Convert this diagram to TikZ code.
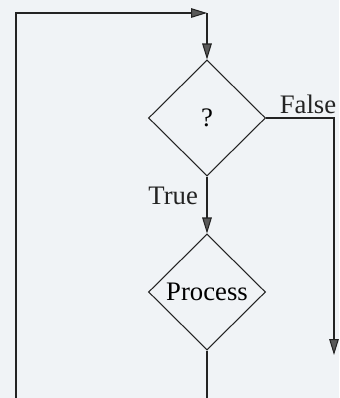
\documentclass[tikz,border=0pt]{standalone}
\usepackage{fontspec}
\setmainfont{Liberation Serif}
\usetikzlibrary{shapes.geometric,arrows.meta,positioning}
\definecolor{paper}{RGB}{240,243,246}
\definecolor{ink}{RGB}{35,35,35}
\begin{document}
\begin{tikzpicture}[
  decision/.style={draw=ink, diamond, minimum width=2.925cm, minimum height=2.9cm, inner sep=0pt, line width=0.75pt, font=\fontsize{19}{21}\selectfont},
  lbl/.style={font=\fontsize{19}{21}\selectfont, inner sep=0pt, text=ink},
  arrow/.style={-{Triangle[length=4mm,width=2.4mm,fill=black!65]}, line width=0.75pt, draw=ink},
  line/.style={line width=0.75pt, draw=ink}
]
\fill[paper] (0,0) rectangle (8.475,-9.95);
\useasboundingbox (0,0) rectangle (8.475,-9.95);

\node[decision] at (5.175,-2.95) (test) {?};
\node[decision] at (5.175,-7.3) (process) {Process};
\node[lbl] at (4.33,-4.9) (truelbl) {True};
\node[lbl] at (7.7,-2.62) (falselbl) {False};

\coordinate (loopstart) at (0.4,-9.95);
\coordinate (corner) at (5.175,-0.325);
\coordinate (procout) at (5.175,-9.95);
\coordinate (falseend) at (8.35,-8.875);

\draw[arrow] (loopstart) |- (corner);
\draw[arrow] (corner) -- (test.north);
\draw[arrow] (test.south) -- (process.north);
\draw[arrow] (test.east) -| (falseend);
\draw[line] (process.south) -- (procout);
\end{tikzpicture}
\end{document}
